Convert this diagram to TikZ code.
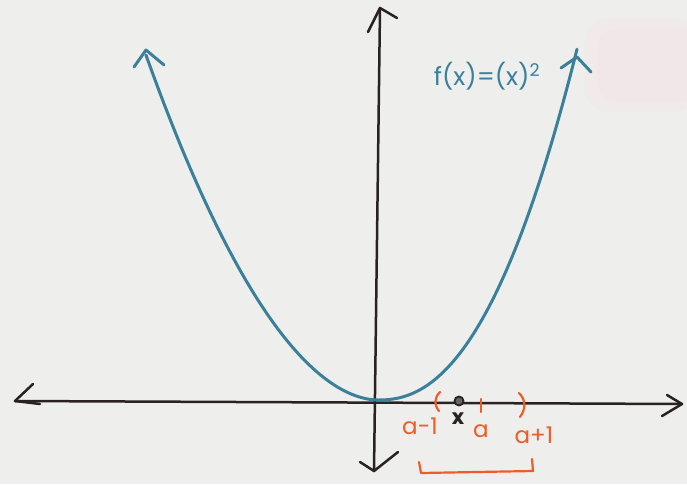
\documentclass[tikz,border=0pt]{standalone}
\usepackage{fontspec}
\setmainfont{Poppins}
\definecolor{paper}{RGB}{238,238,236}
\definecolor{pinkish}{RGB}{244,230,232}
\definecolor{curveblue}{RGB}{58,128,155}
\definecolor{inkblack}{RGB}{40,34,34}
\definecolor{orangeink}{RGB}{240,92,40}
\begin{document}
\begin{tikzpicture}[x=1pt,y=-1pt,
  axisline/.style={inkblack,line width=2.5pt,line cap=round,line join=round},
  curveline/.style={curveblue,line width=3pt,line cap=round,line join=round},
  orangeline/.style={orangeink,line width=2.2pt,line cap=round,line join=round},
  orangelabel/.style={text=orangeink,font=\fontsize{23}{26}\selectfont,inner sep=0pt},
  bluelabel/.style={text=curveblue,font=\fontsize{25}{29}\selectfont,inner sep=0pt}]
\fill[paper] (0,0) rectangle (687,484);
\useasboundingbox (0,0) rectangle (687,484);
\fill[pinkish,opacity=0.45,rounded corners=25pt] (585,18) rectangle (700,112);
\fill[pinkish,opacity=0.55,rounded corners=20pt] (598,28) rectangle (700,102);
% axes
\coordinate (xl) at (15,401);
\coordinate (xr) at (682,404);
\coordinate (yt) at (380,8);
\coordinate (yb) at (374,471);
\draw[axisline] (xl) -- (xr);
\draw[axisline] (yt) -- (yb);
\draw[axisline] (33,384) -- (xl) -- (40,404);
\draw[axisline] (667,395) -- (xr) -- (662,416);
\draw[axisline] (368,32) -- (yt) -- (397,18);
\draw[axisline] (360,462) -- (yb) -- (398,452);
% parabola
\coordinate (cl) at (146,50);
\coordinate (cr) at (577,57);
\draw[curveline] plot[domain=2.32:0.001,samples=80,variable=\t] ({378-100*\t},{400-70.9*pow(\t,1.88)})
  -- plot[domain=0.001:1.99,samples=80,variable=\t] ({378+100*\t},{400-73.6*pow(\t,2.27)});
\draw[curveline] (134,67) -- (cl) -- (164,65);
\draw[curveline] (561,68) -- (cr) -- (591,72);
\node[bluelabel] (flabel) at (487,76) {f(x)=(x)$^{\mathrm{2}}$};
% interval marks
\draw[orangeline] (440,392) .. controls (434,398) and (434,405) .. (439,411);
\draw[orangeline] (519,393) .. controls (526,400) and (526,409) .. (520,417);
\draw[orangeline] (481,399) -- (481,412);
\node[circle,draw=inkblack,fill=inkblack!70,line width=1.8pt,minimum size=9pt,inner sep=0pt] (xdot) at (459,401) {};
\node[text=inkblack,font=\fontsize{21}{24}\selectfont\bfseries,inner sep=0pt] (xlabel) at (458,419) {x};
\node[orangelabel] (am1) at (420,426) {a-1};
\node[orangelabel] (aa) at (481,431) {a};
\node[orangelabel] (ap1) at (534,435) {a+1};
% bracket
\coordinate (b1) at (419,462);
\coordinate (b2) at (421,473);
\coordinate (b3) at (533,471);
\coordinate (b4) at (532,459);
\draw[orangeline] (b1) -- (b2) -- (b3) -- (b4);
\end{tikzpicture}
\end{document}
